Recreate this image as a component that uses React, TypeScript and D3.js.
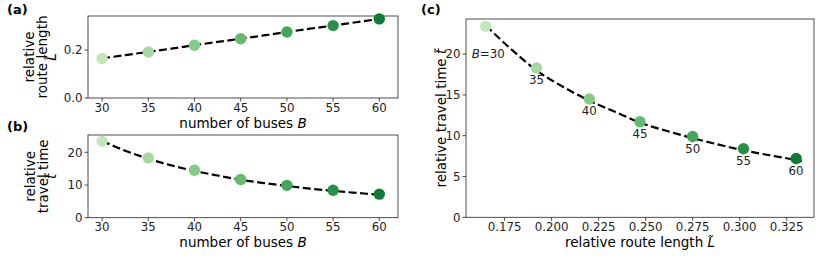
import React from "react";
import * as d3 from "d3";

const buses = [30, 35, 40, 45, 50, 55, 60];
const routeLength = [0.165, 0.192, 0.22, 0.247, 0.275, 0.302, 0.33];
const travelTime = [23.4, 18.3, 14.5, 11.7, 9.9, 8.4, 7.2];

const fitB = [30, 32.5, 35, 37.5, 40, 42.5, 45, 47.5, 50, 52.5, 55, 57.5, 60, 60.5];
const fitL = [0.165, 0.179, 0.192, 0.206, 0.22, 0.234, 0.247, 0.261, 0.275, 0.289, 0.302, 0.316, 0.33, 0.333];
const fitT = [23.5, 20.5, 18.0, 16.0, 14.3, 12.9, 11.6, 10.6, 9.7, 8.9, 8.2, 7.6, 7.0, 6.85];

const ticksA_y = [0.0, 0.2];
const ticksB_y = [0, 10, 20];
const ticksC_y = [0, 5, 10, 15, 20];
const ticksC_x = [0.175, 0.2, 0.225, 0.25, 0.275, 0.3, 0.325];
const ticksBus = [30, 35, 40, 45, 50, 55, 60];

const FONT = "DejaVu Sans, sans-serif";
const TICK_FS = 11.8;
const LABEL_FS = 13.5;

const colorScale = (b: number) => d3.interpolateGreens(0.27 + ((b - 30) / 30) * 0.55);

type Box = { x0: number; x1: number; y0: number; y1: number };

function Frame({ box }: { box: Box }) {
  return (
    <rect
      x={box.x0}
      y={box.y0}
      width={box.x1 - box.x0}
      height={box.y1 - box.y0}
      fill="none"
      stroke="#222"
      strokeWidth={0.8}
    />
  );
}

function XTicks({ box, scale, ticks, fmt }: { box: Box; scale: any; ticks: number[]; fmt: (v: number) => string }) {
  return (
    <g>
      {ticks.map((t) => (
        <g key={t}>
          <line x1={scale(t)} x2={scale(t)} y1={box.y1} y2={box.y1 + 3.5} stroke="#222" strokeWidth={0.8} />
          <text x={scale(t)} y={box.y1 + 13.5} textAnchor="middle" fontSize={TICK_FS} fontFamily={FONT} fill="#222">
            {fmt(t)}
          </text>
        </g>
      ))}
    </g>
  );
}

function YTicks({ box, scale, ticks, fmt }: { box: Box; scale: any; ticks: number[]; fmt: (v: number) => string }) {
  return (
    <g>
      {ticks.map((t) => (
        <g key={t}>
          <line x1={box.x0 - 3.5} x2={box.x0} y1={scale(t)} y2={scale(t)} stroke="#222" strokeWidth={0.8} />
          <text x={box.x0 - 5.5} y={scale(t) + 4.3} textAnchor="end" fontSize={TICK_FS} fontFamily={FONT} fill="#222">
            {fmt(t)}
          </text>
        </g>
      ))}
    </g>
  );
}

export default function App() {
  const boxA: Box = { x0: 88, x1: 398, y0: 16, y1: 98 };
  const boxB: Box = { x0: 88, x1: 398, y0: 135, y1: 217.7 };
  const boxC: Box = { x0: 466, x1: 814, y0: 19, y1: 217.3 };

  const xBusA = d3.scaleLinear().domain([28.475, 62.025]).range([boxA.x0, boxA.x1]);
  const xBusB = d3.scaleLinear().domain([28.475, 62.025]).range([boxB.x0, boxB.x1]);
  const yA = d3.scaleLinear().domain([0, 0.342]).range([boxA.y1, boxA.y0]);
  const yB = d3.scaleLinear().domain([0, 25.3]).range([boxB.y1, boxB.y0]);
  const xC = d3.scaleLinear().domain([0.1545, 0.3395]).range([boxC.x0, boxC.x1]);
  const yC = d3.scaleLinear().domain([0, 24.3]).range([boxC.y1, boxC.y0]);

  const idx = d3.range(fitB.length);
  const lineA = d3.line<number>().x((i) => xBusA(fitB[i])).y((i) => yA(fitL[i])).curve(d3.curveMonotoneX);
  const lineB = d3.line<number>().x((i) => xBusB(fitB[i])).y((i) => yB(fitT[i])).curve(d3.curveMonotoneX);
  const lineC = d3.line<number>().x((i) => xC(fitL[i])).y((i) => yC(fitT[i])).curve(d3.curveMonotoneX);

  const dash = "8,3.5";
  const LW = 2.2;
  const R = 5.7;

  const busLabel = (
    <>
      number of buses <tspan fontStyle="italic">B</tspan>
    </>
  );

  return (
    <svg width={830} height={256} style={{ position: "absolute", left: 0, top: 0, background: "#fff" }}>
      {/* Panel (a) */}
      <text x={7} y={14} fontSize={13} fontWeight="bold" fontFamily={FONT}>(a)</text>
      <Frame box={boxA} />
      <XTicks box={boxA} scale={xBusA} ticks={ticksBus} fmt={(v) => String(v)} />
      <YTicks box={boxA} scale={yA} ticks={ticksA_y} fmt={d3.format(".1f")} />
      <path d={lineA(idx) || ""} fill="none" stroke="#000" strokeWidth={LW} strokeDasharray={dash} />
      {buses.map((b, i) => (
        <circle key={b} cx={xBusA(b)} cy={yA(routeLength[i])} r={R} fill={colorScale(b)} />
      ))}
      <text x={(boxA.x0 + boxA.x1) / 2} y={128} textAnchor="middle" fontSize={LABEL_FS} fontFamily={FONT}>
        {busLabel}
      </text>
      <g transform={`translate(0,${(boxA.y0 + boxA.y1) / 2}) rotate(-90)`} fontSize={LABEL_FS} fontFamily={FONT} textAnchor="middle">
        <text x={0} y={34}>relative</text>
        <text x={0} y={47}>route length</text>
        <text x={0} y={56} fontStyle="italic">{"L\u0303"}</text>
      </g>

      {/* Panel (b) */}
      <text x={7} y={131} fontSize={13} fontWeight="bold" fontFamily={FONT}>(b)</text>
      <Frame box={boxB} />
      <XTicks box={boxB} scale={xBusB} ticks={ticksBus} fmt={(v) => String(v)} />
      <YTicks box={boxB} scale={yB} ticks={ticksB_y} fmt={(v) => String(v)} />
      <path d={lineB(idx) || ""} fill="none" stroke="#000" strokeWidth={LW} strokeDasharray={dash} />
      {buses.map((b, i) => (
        <circle key={b} cx={xBusB(b)} cy={yB(travelTime[i])} r={R} fill={colorScale(b)} />
      ))}
      <text x={(boxB.x0 + boxB.x1) / 2} y={246.5} textAnchor="middle" fontSize={LABEL_FS} fontFamily={FONT}>
        {busLabel}
      </text>
      <g transform={`translate(0,${(boxB.y0 + boxB.y1) / 2}) rotate(-90)`} fontSize={LABEL_FS} fontFamily={FONT} textAnchor="middle">
        <text x={0} y={35}>relative</text>
        <text x={0} y={48}>travel time</text>
        <text x={0} y={56} fontStyle="italic">{"t\u0303"}</text>
      </g>

      {/* Panel (c) */}
      <text x={421} y={14} fontSize={13} fontWeight="bold" fontFamily={FONT}>(c)</text>
      <Frame box={boxC} />
      <XTicks box={boxC} scale={xC} ticks={ticksC_x} fmt={d3.format(".3f")} />
      <YTicks box={boxC} scale={yC} ticks={ticksC_y} fmt={(v) => String(v)} />
      <path d={lineC(idx) || ""} fill="none" stroke="#000" strokeWidth={LW} strokeDasharray={dash} />
      {buses.map((b, i) => (
        <circle key={b} cx={xC(routeLength[i])} cy={yC(travelTime[i])} r={R} fill={colorScale(b)} />
      ))}
      {buses.map((b, i) =>
        i === 0 ? (
          <text key={b} x={xC(routeLength[i]) - 14} y={yC(travelTime[i]) + 32} fontSize={TICK_FS} fontFamily={FONT} fill="#222">
            <tspan fontStyle="italic">B</tspan>=30
          </text>
        ) : (
          <text key={b} x={xC(routeLength[i])} y={yC(travelTime[i]) + 16.5} textAnchor="middle" fontSize={TICK_FS} fontFamily={FONT} fill="#222">
            {b}
          </text>
        )
      )}
      <text x={(boxC.x0 + boxC.x1) / 2} y={247} textAnchor="middle" fontSize={LABEL_FS} fontFamily={FONT}>
        relative route length <tspan fontStyle="italic">{"L\u0303"}</tspan>
      </text>
      <text
        transform={`translate(446,${(boxC.y0 + boxC.y1) / 2}) rotate(-90)`}
        textAnchor="middle"
        fontSize={LABEL_FS}
        fontFamily={FONT}
      >
        relative travel time <tspan fontStyle="italic">{"t\u0303"}</tspan>
      </text>
    </svg>
  );
}
